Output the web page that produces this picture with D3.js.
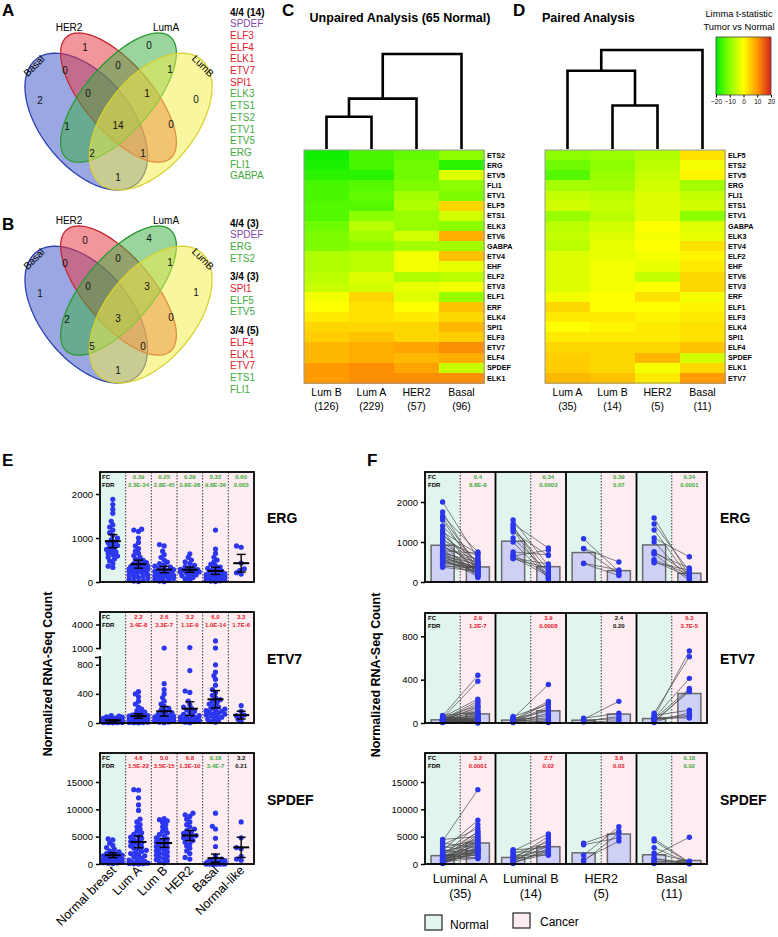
<!DOCTYPE html>
<html>
<head>
<meta charset="utf-8">
<title>ETS factors in breast cancer subtypes</title>
<script src="https://cdn.jsdelivr.net/npm/d3@7/dist/d3.min.js"></script>
<style>
  body { margin: 0; background: #fff; }
  svg { font-family: "Liberation Sans", Arial, Helvetica, sans-serif; }
</style>
</head>
<body>
<div id="chart"></div>
<script>
// ---------- A / B : Venn counts ----------
var vennRegions = ["HER2", "LumA", "Basal&HER2", "HER2&LumA", "LumA&LumB", "Basal",
                   "Basal&HER2&LumA", "HER2&LumA&LumB", "LumB", "Basal&LumA", "All",
                   "HER2&LumB", "Basal&LumA&LumB", "Basal&HER2&LumB", "Basal&LumB"];
var vennCountsA = [1, 0, 0, 0, 1, 2, 0, 1, 0, 1, 14, 0, 2, 1, 1];
var vennCountsB = [0, 4, 0, 0, 1, 1, 0, 3, 1, 2, 3, 0, 5, 0, 1];

var listAHead = "4/4 (14)";
var listAGenes = ["SPDEF", "ELF3", "ELF4", "ELK1", "ETV7", "SPI1", "ELK3", "ETS1", "ETS2", "ETV1", "ETV5", "ERG", "FLI1", "GABPA"];
var listAKind  = ["p", "r", "r", "r", "r", "r", "g", "g", "g", "g", "g", "g", "g", "g"];
var listBHeads = ["4/4 (3)", "3/4 (3)", "3/4 (5)"];
var listBGenes = [["SPDEF", "ERG", "ETS2"], ["SPI1", "ELF5", "ETV5"], ["ELF4", "ELK1", "ETV7", "ETS1", "FLI1"]];
var listBKind  = [["p", "g", "g"], ["r", "g", "g"], ["r", "r", "r", "g", "g"]];

// ---------- C / D : heatmaps (limma t-statistic) ----------
var heatCGenes = ["ETS2", "ERG", "ETV5", "FLI1", "ETV1", "ELF5", "ETS1", "ELK3", "ETV6", "GABPA", "ETV4", "EHF",
                  "ELF2", "ETV3", "ELF1", "ERF", "ELK4", "SPI1", "ELF3", "ETV7", "ELF4", "SPDEF", "ELK1"];
var heatCCols = ["Lum B", "Lum A", "HER2", "Basal"];
var heatCN = ["(126)", "(229)", "(57)", "(96)"];
var heatCVals = [
  [-19, -15, -13, -10], [-18, -15, -12, -17], [-17, -17, -12, -3], [-15, -14, -11, -10],
  [-15, -13, -8, -11], [-14, -14, -7, 4], [-14, -10, -9, -4], [-12, -6, -9, -10],
  [-11, -8, -4, 8], [-11, -10, -8, -8], [-7, -6, -1, 6], [-7, -6, -1, -2],
  [-6, -3, -7, -6], [-5, -4, -2, -1], [-1, 4, -3, -9], [0, 3, 0, 6],
  [2, 3, 2, 4], [4, 4, 4, 7], [5, 6, 4, 5], [7, 8, 9, 11],
  [7, 8, 7, 8], [10, 11, 9, -5], [10, 11, 11, 11]
];
var dendroC = [[0, 1, 0.34], [4, 2, 0.53], [5, 3, 1.0]];

var heatDGenes = ["ELF5", "ETS2", "ETV5", "ERG", "FLI1", "ETS1", "ETV1", "GABPA", "ELK3", "ETV4", "ELF2", "EHF",
                  "ETV6", "ETV3", "ERF", "ELF1", "ELF3", "ELK4", "SPI1", "ELF4", "SPDEF", "ELK1", "ETV7"];
var heatDCols = ["Lum A", "Lum B", "HER2", "Basal"];
var heatDN = ["(35)", "(14)", "(5)", "(11)"];
var heatDVals = [
  [-10, -9, -7, 3], [-12, -10, -6, -1], [-14, -9, -5, 1], [-8, -8, -4, -8],
  [-5, -6, -3, -5], [-4, -5, -3, -4], [-9, -6, -3, -10], [-6, -4, 0, -3],
  [-5, -3, -1, -2], [-6, -2, 0, 3], [-3, -2, -1, 1], [-3, -1, -2, 2],
  [-3, -1, -5, 4], [-3, -1, 0, 4], [-1, 0, 3, -1], [4, 0, 0, 1],
  [2, 2, 1, 2], [0, 1, 2, 3], [2, 2, 2, 3], [4, 4, 4, 6],
  [5, 4, 7, -4], [5, 4, -1, 4], [7, 6, 2, 10]
];
var dendroD = [[1, 2, 0.44], [0, 4, 0.79], [5, 3, 1.0]];
var legendTicks = [-20, -10, 0, 10, 20];

// ---------- E : unpaired counts ----------
var eGroups = ["Normal breast", "Lum A", "Lum B", "HER2", "Basal", "Normal-like"];
var ergE = [
  [1880, 1760, 1650, 1560, 1380, 1300, 1250, 1180, 1120, 1060, 1000, 960, 920, 890, 860, 830, 800, 770, 740, 710, 680, 650, 620, 590, 560, 520, 480, 420, 360, 330],
  [1200, 1180, 1150, 1000, 900, 820, 760, 700, 650, 600, 560, 520, 490, 460, 440, 420, 400, 380, 360, 350, 340, 330, 320, 310, 300, 290, 280, 270, 260, 250, 240, 230, 220, 200, 180, 160, 150, 140, 120, 100, 80, 60, 40, 20, 10],
  [850, 820, 700, 620, 560, 500, 450, 420, 390, 360, 340, 320, 300, 280, 260, 240, 230, 220, 210, 200, 190, 180, 170, 160, 150, 140, 130, 120, 100, 90, 80, 60, 40, 20, 10],
  [640, 560, 500, 460, 420, 380, 350, 320, 300, 290, 280, 270, 260, 250, 240, 230, 220, 200, 180, 160, 140, 120, 100, 70, 40],
  [1180, 750, 650, 560, 500, 450, 400, 370, 340, 310, 290, 270, 250, 230, 210, 200, 190, 180, 170, 160, 150, 140, 130, 120, 110, 100, 90, 80, 70, 60, 50, 40, 30, 20, 10],
  [820, 790, 430, 300, 260, 210, 180]
];
var etv7E = [
  [100, 95, 85, 80, 70, 65, 60, 55, 50, 45, 40, 38, 35, 32, 30, 28, 26, 24, 22, 20, 18, 16, 14, 12, 10, 8, 6, 5, 4, 2],
  [430, 400, 360, 300, 260, 220, 190, 170, 150, 135, 120, 110, 100, 95, 90, 85, 80, 75, 70, 65, 60, 58, 55, 52, 50, 48, 45, 42, 40, 38, 35, 32, 30, 28, 25, 22, 20, 18, 15, 12, 10, 8, 6, 4, 2],
  [1000, 540, 460, 400, 350, 300, 260, 230, 200, 180, 160, 140, 125, 115, 105, 100, 95, 90, 85, 80, 75, 70, 65, 60, 55, 50, 45, 40, 35, 30, 25, 20, 15, 10, 5],
  [1050, 720, 440, 420, 300, 250, 220, 200, 180, 160, 140, 120, 110, 100, 90, 80, 70, 60, 50, 40, 35, 30, 20, 10, 5],
  [1900, 1000, 800, 700, 650, 600, 520, 460, 420, 380, 350, 320, 300, 280, 260, 240, 220, 200, 190, 180, 170, 160, 150, 140, 130, 120, 110, 100, 90, 80, 60, 50, 40, 20, 10],
  [240, 160, 110, 100, 80, 50, 20]
];
var spdefE = [
  [4600, 4400, 3800, 3400, 3000, 2700, 2400, 2200, 2000, 1900, 1800, 1700, 1600, 1500, 1400, 1300, 1200, 1100, 1000, 900, 800, 700, 600, 500, 400, 300, 250, 200, 150, 100],
  [13600, 13500, 12100, 10800, 9800, 8200, 7700, 7200, 6800, 6400, 6000, 5700, 5400, 5100, 4900, 4700, 4500, 4300, 4100, 3900, 3700, 3500, 3300, 3100, 2900, 2700, 2500, 2300, 2100, 1900, 1700, 1500, 1300, 1100, 900, 700, 500, 400, 300, 200, 150, 100, 60, 30, 10],
  [8300, 8100, 7900, 7600, 7200, 6800, 6400, 6000, 5700, 5400, 5100, 4800, 4600, 4400, 4200, 4000, 3800, 3600, 3400, 3200, 3000, 2800, 2600, 2400, 2200, 2000, 1800, 1600, 1400, 1200, 1000, 800, 600, 400, 200],
  [9300, 9000, 8700, 8200, 7700, 7200, 6800, 6400, 6100, 5800, 5600, 5400, 5200, 5000, 4800, 4600, 4300, 4000, 3700, 3300, 2900, 2400, 1900, 1200, 900],
  [9300, 6900, 6400, 4700, 3200, 1500, 900, 700, 600, 500, 400, 350, 300, 250, 200, 180, 160, 140, 120, 100, 90, 80, 70, 60, 50, 40, 30, 25, 20, 15, 10, 8, 5, 3, 1],
  [7700, 4800, 3000, 2800, 1400, 900, 700]
];
var ergEFc = ["0.39", "0.25", "0.29", "0.22", "0.60"];
var ergEFdr = ["2.3E-34", "2.8E-45", "3.8E-28", "9.8E-36", "0.003"];
var ergECol = ["g", "g", "g", "g", "g"];
var etv7EFc = ["2.2", "2.6", "3.2", "6.0", "3.3"];
var etv7EFdr = ["3.4E-8", "3.3E-7", "1.1E-9", "1.0E-14", "1.7E-6"];
var etv7ECol = ["r", "r", "r", "r", "r"];
var spdefEFc = ["4.6", "5.0", "6.8", "0.18", "3.2"];
var spdefEFdr = ["1.5E-22", "3.5E-15", "1.3E-10", "3.4E-7", "0.21"];
var spdefECol = ["r", "r", "r", "g", "k"];

// ---------- F : paired counts (normal, cancer) ----------
var fGroups = ["Luminal A", "Luminal B", "HER2", "Basal"];
var fN = ["(35)", "(14)", "(5)", "(11)"];
var ergFNormal = [
  [2000, 1750, 1650, 1600, 1550, 1400, 1300, 1250, 1200, 1150, 1100, 1050, 1000, 950, 900, 850, 800, 780, 760, 740, 720, 700, 680, 650, 630, 600, 580, 560, 540, 520, 500, 470, 440, 400, 370],
  [1550, 1450, 1400, 1350, 1300, 1250, 1100, 1000, 750, 680, 650, 620, 600, 580],
  [1080, 840, 830, 470, 460],
  [1600, 1450, 1300, 1100, 1000, 760, 720, 700, 560, 520, 480]
];
var ergFCancer = [
  [600, 300, 750, 420, 250, 480, 160, 700, 380, 520, 220, 650, 340, 110, 460, 560, 270, 720, 400, 200, 500, 320, 180, 440, 290, 360, 140, 390, 240, 330, 280, 370, 230, 350, 260],
  [400, 850, 120, 300, 60, 660, 250, 100, 680, 200, 800, 150, 450, 350],
  [260, 500, 200, 300, 160],
  [150, 270, 100, 630, 60, 200, 350, 40, 180, 120, 300]
];
var etv7FNormal = [
  [70, 65, 60, 55, 50, 48, 45, 42, 40, 38, 36, 34, 32, 30, 29, 28, 27, 26, 25, 24, 23, 22, 21, 20, 19, 18, 17, 16, 15, 13, 12, 10, 8, 6, 4],
  [60, 50, 45, 40, 35, 30, 25, 20, 18, 15, 12, 10, 8, 5],
  [45, 35, 25, 15, 10],
  [90, 70, 55, 50, 45, 40, 35, 30, 20, 10, 5]
];
var etv7FCancer = [
  [100, 440, 30, 220, 15, 160, 385, 60, 8, 120, 45, 200, 22, 90, 5, 140, 35, 180, 12, 70, 3, 110, 50, 150, 25, 6, 80, 40, 2, 55, 18, 28, 10, 20, 4],
  [170, 30, 355, 110, 5, 200, 70, 185, 20, 150, 50, 130, 10, 90],
  [90, 200, 40, 60, 20],
  [612, 118, 665, 45, 412, 72, 318, 60, 290, 95, 305]
];
var spdefFNormal = [
  [4500, 4200, 3800, 3500, 3200, 3000, 2700, 2500, 2300, 2100, 1900, 1800, 1700, 1600, 1500, 1400, 1300, 1200, 1100, 1000, 900, 850, 800, 700, 650, 600, 500, 450, 400, 350, 300, 250, 200, 150, 100],
  [2600, 2400, 2200, 1900, 1600, 1400, 1200, 1000, 800, 600, 400, 300, 200, 100],
  [3800, 3500, 1600, 800, 500],
  [4600, 4200, 3000, 2000, 1600, 1000, 900, 600, 400, 200, 100]
];
var spdefFCancer = [
  [5000, 13600, 3000, 6500, 2200, 4400, 1400, 8000, 3800, 2600, 5800, 1000, 4800, 2000, 7200, 3400, 2800, 1600, 6000, 4200, 2400, 5500, 1200, 3600, 2900, 4600, 1800, 5200, 2700, 1100, 4000, 2300, 3200, 2100, 2500],
  [3000, 5500, 2200, 4000, 1600, 3600, 2600, 5000, 2000, 3300, 1800, 4500, 2400, 2800],
  [6000, 4800, 6800, 4200, 5600],
  [300, 200, 150, 500, 4900, 100, 250, 80, 400, 50, 120]
];
var ergFFc = ["0.4", "0.34", "0.39", "0.24"];
var ergFFdr = ["8.8E-8", "0.0003", "0.07", "0.0001"];
var ergFCol = ["g", "g", "g", "g"];
var etv7FFc = ["2.9", "3.9", "2.4", "6.3"];
var etv7FFdr = ["1.2E-7", "0.0008", "0.20", "3.7E-5"];
var etv7FCol = ["r", "r", "k", "r"];
var spdefFFc = ["3.2", "2.7", "3.8", "0.18"];
var spdefFFdr = ["0.0001", "0.02", "0.03", "0.02"];
var spdefFCol = ["r", "r", "r", "g"];

function init(){
    var svg = d3.select("#chart").append("svg").attr("width", 778).attr("height", 937);
    var textColor = {p: "#8446a8", r: "#e3202b", g: "#45aa3c", k: "#111"};
    var blue = "#2b36ee";
    var normalBg = "#e2f4ee", cancerBg = "#fdedf1";

    // panel letters
    [["A", 2, 16], ["B", 2, 230], ["C", 282, 16], ["D", 513, 16], ["E", 2, 466], ["F", 367, 466]]
        .forEach(function(l){
            svg.append("text").attr("x", l[1]).attr("y", l[2]).text(l[0])
                .attr("font-size", 17).attr("font-weight", "bold");
        });

    // ---------------- Venn diagrams ----------------
    // ellipse layout in unit coords (same as the classic 4-set layout)
    var vennSets = [
        {name: "Basal", x: 0.35, y: 0.47, a: 0.35, b: 0.20, rot: 135, fill: "#3d57c9", stroke: "#2a3fb0"},
        {name: "HER2",  x: 0.50, y: 0.57, a: 0.35, b: 0.15, rot: 135, fill: "#e8353f", stroke: "#c42a33"},
        {name: "LumA",  x: 0.50, y: 0.57, a: 0.35, b: 0.15, rot: 45,  fill: "#3eae44", stroke: "#2b9a33"},
        {name: "LumB",  x: 0.65, y: 0.47, a: 0.35, b: 0.20, rot: 45,  fill: "#f4ee48", stroke: "#d8d230"}
    ];
    var vennLabelPos = [[85, 47], [149, 45], [65, 70], [118, 65], [170, 69], [40, 100], [88, 93], [147, 93],
                        [196, 99], [67, 126], [118, 125], [171, 124], [92, 153], [143, 153], [118, 177]];

    function drawVenn(dy, counts){
        var g = svg.append("g").attr("transform", "translate(0," + dy + ")");
        var vx = d3.scaleLinear().domain([0, 1]).range([11, 226]);
        var vy = d3.scaleLinear().domain([1, 0]).range([-5.6, 234.4]);
        vennSets.forEach(function(s){
            var r = s.rot * Math.PI / 180;
            var pts = d3.range(0, 360, 3).map(function(t){
                var a = t * Math.PI / 180;
                var x = s.x + s.a * Math.cos(a) * Math.cos(r) - s.b * Math.sin(a) * Math.sin(r);
                var y = s.y + s.a * Math.cos(a) * Math.sin(r) + s.b * Math.sin(a) * Math.cos(r);
                return [vx(x), vy(y)];
            });
            g.append("path").attr("d", d3.line()(pts) + "Z")
                .attr("fill", s.fill).attr("fill-opacity", 0.52)
                .attr("stroke", s.stroke).attr("stroke-width", 1.3);
        });
        g.selectAll("text.cnt").data(counts).enter().append("text")
            .attr("class", "cnt")
            .attr("x", function(d, i){ return vennLabelPos[i][0]; })
            .attr("y", function(d, i){ return vennLabelPos[i][1] + 3.6; })
            .attr("text-anchor", "middle").attr("font-size", 10).attr("fill", "#111")
            .text(function(d){ return d; });
        g.append("text").attr("x", 69).attr("y", 30.5).attr("text-anchor", "middle").attr("font-size", 10).text("HER2");
        g.append("text").attr("x", 166).attr("y", 30.5).attr("text-anchor", "middle").attr("font-size", 10).text("LumA");
        g.append("text").attr("transform", "translate(34,66) rotate(-45)").attr("dy", 3.5)
            .attr("text-anchor", "middle").attr("font-size", 10).text("Basal");
        g.append("text").attr("transform", "translate(203,66) rotate(45)").attr("dy", 3.5)
            .attr("text-anchor", "middle").attr("font-size", 10).text("LumB");
    }
    drawVenn(0, vennCountsA);
    drawVenn(193, vennCountsB);

    // gene lists
    svg.append("text").attr("x", 230).attr("y", 15.5).attr("font-size", 10).attr("font-weight", "bold").text(listAHead);
    listAGenes.forEach(function(gn, i){
        svg.append("text").attr("x", 230).attr("y", 12 + (i + 1) * 11.7 + 3.5)
            .attr("font-size", 10).attr("fill", textColor[listAKind[i]]).text(gn);
    });
    var row = 0;
    listBHeads.forEach(function(h, gi){
        svg.append("text").attr("x", 230).attr("y", 223 + row * 11.7 + gi * 7 + 3.5)
            .attr("font-size", 10).attr("font-weight", "bold").text(h);
        row++;
        listBGenes[gi].forEach(function(gn, i){
            svg.append("text").attr("x", 230).attr("y", 223 + row * 11.7 + gi * 7 + 3.5)
                .attr("font-size", 10).attr("fill", textColor[listBKind[gi][i]]).text(gn);
            row++;
        });
    });

    // ---------------- Heatmaps ----------------
    var heatColor = d3.scaleLinear().domain([-20, -10, 0, 10, 20])
        .range(["#00ee00", "#8cff00", "#ffff00", "#ff9a00", "#d82020"]);

    function drawHeat(x0, title, titleX, titleAnchor, genes, cols, ns, vals, dendro, topY){
        var g = svg.append("g");
        var x = d3.scaleBand().domain(cols).range([x0, x0 + 180]);
        var y = d3.scaleBand().domain(genes).range([150, 383]);
        g.append("text").attr("x", titleX).attr("y", 22).attr("text-anchor", titleAnchor)
            .attr("font-size", 12.5).attr("font-weight", "bold").text(title);
        genes.forEach(function(gn, i){
            g.selectAll(null).data(vals[i]).enter().append("rect")
                .attr("x", function(d, j){ return x(cols[j]); })
                .attr("y", y(gn))
                .attr("width", x.bandwidth() + 0.5)
                .attr("height", y.bandwidth() + 0.5)
                .attr("fill", function(d){ return heatColor(d); })
                .attr("shape-rendering", "crispEdges");
        });
        g.append("rect").attr("x", x0).attr("y", 150).attr("width", 180).attr("height", 233)
            .attr("fill", "none").attr("stroke", "#9a9a9a").attr("stroke-width", 1);
        g.selectAll("text.row").data(genes).enter().append("text").attr("class", "row")
            .attr("x", x0 + 183).attr("y", function(d){ return y(d) + y.bandwidth() / 2 + 2.6; })
            .attr("font-size", 7.2).attr("font-weight", "bold").text(function(d){ return d; });
        cols.forEach(function(c, j){
            var cx = x(c) + x.bandwidth() / 2;
            g.append("text").attr("x", cx).attr("y", 396).attr("text-anchor", "middle").attr("font-size", 10.5).text(c);
            g.append("text").attr("x", cx).attr("y", 409.5).attr("text-anchor", "middle").attr("font-size", 10.5).text(ns[j]);
        });
        // dendrogram
        var hs = d3.scaleLinear().domain([0, 1]).range([149, topY]);
        var nodes = cols.map(function(c){ return {x: x(c) + x.bandwidth() / 2, y: 149}; });
        dendro.forEach(function(m){
            var a = nodes[m[0]], b = nodes[m[1]], yy = hs(m[2]);
            g.append("path").attr("d", "M" + a.x + "," + a.y + "V" + yy + "H" + b.x + "V" + b.y)
                .attr("fill", "none").attr("stroke", "#000").attr("stroke-width", 2.6);
            nodes.push({x: (a.x + b.x) / 2, y: yy});
        });
    }
    drawHeat(304, "Unpaired Analysis (65 Normal)", 400, "middle", heatCGenes, heatCCols, heatCN, heatCVals, dendroC, 54);
    drawHeat(545, "Paired Analysis", 542, "start", heatDGenes, heatDCols, heatDN, heatDVals, dendroD, 50);

    // colour legend
    var defs = svg.append("defs");
    var grad = defs.append("linearGradient").attr("id", "tgrad");
    legendTicks.forEach(function(t, i){
        grad.append("stop").attr("offset", (i / (legendTicks.length - 1) * 100) + "%").attr("stop-color", heatColor(t));
    });
    var lx = d3.scaleLinear().domain([-20, 20]).range([716, 771]);
    svg.append("text").attr("x", 739).attr("y", 17).attr("text-anchor", "middle").attr("font-size", 9.3).text("Limma t-statistic");
    svg.append("text").attr("x", 739).attr("y", 29.5).attr("text-anchor", "middle").attr("font-size", 9.3).text("Tumor vs Normal");
    svg.append("rect").attr("x", 716).attr("y", 37).attr("width", 55).attr("height", 58)
        .attr("fill", "url(#tgrad)").attr("stroke", "#444").attr("stroke-width", 0.8);
    var lAxis = svg.append("g").attr("transform", "translate(0,95)")
        .call(d3.axisBottom(lx).tickValues(legendTicks).tickSize(2.5));
    lAxis.select(".domain").remove();
    lAxis.selectAll("text").attr("font-size", 6.5).attr("font-family", null).attr("dy", "0.6em");

    // ---------------- helpers for dot plots ----------------
    function swarm(values, y, cx, r, maxOff){
        var pts = values.map(function(v){ return {v: v, y: y(v)}; })
                        .sort(function(a, b){ return b.y - a.y; });
        var placed = [];
        var minD = r * 1.45, step = r * 0.6;
        var nSteps = Math.floor(maxOff / step);
        pts.forEach(function(p){
            var bestX = cx, bestD = -1;
            for (var k = 0; k <= nSteps * 2; k++){
                var x = cx + (k % 2 ? -1 : 1) * Math.ceil(k / 2) * step;
                var d = Infinity;
                placed.forEach(function(q){
                    var dd = Math.hypot(q.x - x, q.y - p.y);
                    if (dd < d) d = dd;
                });
                if (d >= minD){ bestX = x; bestD = d; break; }
                if (d > bestD){ bestD = d; bestX = x; }
            }
            p.x = bestX;
            placed.push(p);
        });
        return placed;
    }

    function fcText(g, x, top, fc, fdr, col, anchor){
        g.append("text").attr("x", x).attr("y", top + 7).attr("text-anchor", anchor)
            .attr("font-size", 6).attr("font-weight", "bold").attr("fill", textColor[col]).text(fc);
        g.append("text").attr("x", x).attr("y", top + 14.5).attr("text-anchor", anchor)
            .attr("font-size", 6).attr("font-weight", "bold").attr("fill", textColor[col]).text(fdr);
    }

    function yAxis(g, x0, y, ticks){
        var ax = g.append("g").attr("transform", "translate(" + x0 + ",0)")
            .call(d3.axisLeft(y).tickValues(ticks).tickSize(4).tickFormat(d3.format("d")));
        ax.select(".domain").remove();
        ax.selectAll("line").attr("stroke-width", 1.5);
        ax.selectAll("text").attr("font-size", 9.5).attr("font-family", null).attr("fill", "#000");
        return ax;
    }

    // ---------------- E : unpaired dot plots ----------------
    var xE = d3.scaleBand().domain(eGroups).range([100, 254]);

    function drawE(top, bottom, y, ticks, data, fc, fdr, cols, gene, broken){
        var g = svg.append("g");
        eGroups.forEach(function(gr, i){
            g.append("rect").attr("x", xE(gr)).attr("y", top).attr("width", xE.bandwidth()).attr("height", bottom - top)
                .attr("fill", i === 0 ? normalBg : cancerBg);
            if (i > 0){
                g.append("line").attr("x1", xE(gr)).attr("x2", xE(gr)).attr("y1", top).attr("y2", bottom)
                    .attr("stroke", "#222").attr("stroke-width", 0.9).attr("stroke-dasharray", "1.5,1.5");
            }
        });
        g.append("text").attr("x", 102).attr("y", top + 7).attr("font-size", 6).attr("font-weight", "bold").text("FC");
        g.append("text").attr("x", 102).attr("y", top + 14.5).attr("font-size", 6).attr("font-weight", "bold").text("FDR");
        fc.forEach(function(f, i){
            fcText(g, xE(eGroups[i + 1]) + xE.bandwidth() / 2, top, f, fdr[i], cols[i], "middle");
        });
        data.forEach(function(vals, i){
            var cx = xE(eGroups[i]) + xE.bandwidth() / 2;
            var pts = swarm(vals, y, cx, 2.6, 10);
            g.selectAll(null).data(pts).enter().append("circle")
                .attr("cx", function(d){ return d.x; }).attr("cy", function(d){ return d.y; })
                .attr("r", 2.6).attr("fill", blue);
            var m = d3.mean(vals), se = 1.96 * d3.deviation(vals) / Math.sqrt(vals.length);
            var lo = y(Math.max(0, m - se)), hi = y(m + se);
            g.append("line").attr("x1", cx).attr("x2", cx).attr("y1", lo).attr("y2", hi).attr("stroke", "#000").attr("stroke-width", 1.4);
            g.append("line").attr("x1", cx - 4.5).attr("x2", cx + 4.5).attr("y1", lo).attr("y2", lo).attr("stroke", "#000").attr("stroke-width", 1.4);
            g.append("line").attr("x1", cx - 4.5).attr("x2", cx + 4.5).attr("y1", hi).attr("y2", hi).attr("stroke", "#000").attr("stroke-width", 1.4);
            g.append("line").attr("x1", cx - 8).attr("x2", cx + 8).attr("y1", y(m)).attr("y2", y(m)).attr("stroke", "#000").attr("stroke-width", 2);
        });
        g.append("rect").attr("x", 100).attr("y", top).attr("width", 154).attr("height", bottom - top)
            .attr("fill", "none").attr("stroke", "#000").attr("stroke-width", 1.8);
        yAxis(g, 100, y, ticks);
        if (broken){
            // axis break between the two scale segments
            g.append("rect").attr("x", 98).attr("y", y(broken[0]) + 1.5).attr("width", 4)
                .attr("height", y(broken[1]) - y(broken[0]) - 3)
                .attr("fill", "#fff");
            g.append("line").attr("x1", 95).attr("x2", 101).attr("y1", y(broken[1])).attr("y2", y(broken[1]))
                .attr("stroke", "#000").attr("stroke-width", 1.5);
        }
        g.append("text").attr("x", 267).attr("y", (top + bottom) / 2 - 4).attr("font-size", 14).attr("font-weight", "bold").text(gene);
    }

    var yErgE = d3.scaleLinear().domain([0, 2500]).range([582, 472]);
    var yEtv7E = d3.scaleLinear().domain([0, 900, 1000, 5600]).range([723, 657.5, 648, 612]);
    var ySpdefE = d3.scaleLinear().domain([0, 20300]).range([864, 753]);
    drawE(472, 582, yErgE, [0, 1000, 2000], ergE, ergEFc, ergEFdr, ergECol, "ERG");
    drawE(612, 723, yEtv7E, [0, 400, 800, 1000, 4000], etv7E, etv7EFc, etv7EFdr, etv7ECol, "ETV7", [1000, 900]);
    drawE(753, 864, ySpdefE, [0, 5000, 10000, 15000], spdefE, spdefEFc, spdefEFdr, spdefECol, "SPDEF");

    eGroups.forEach(function(gr){
        var cx = xE(gr) + xE.bandwidth() / 2;
        svg.append("text").attr("transform", "translate(" + (cx + 4) + ",871) rotate(-45)")
            .attr("text-anchor", "end").attr("font-size", 12.5).text(gr);
    });
    svg.append("text").attr("transform", "translate(52,674) rotate(-90)").attr("text-anchor", "middle")
        .attr("font-size", 12.5).attr("font-weight", "bold").text("Normalized RNA-Seq Count");

    // ---------------- F : paired plots ----------------
    var xF = d3.scaleBand().domain(fGroups).range([425, 707]);
    var sub = d3.scaleBand().domain(["Normal", "Cancer"]).range([0, xF.bandwidth()]);

    function drawF(top, bottom, y, ticks, normal, cancer, fc, fdr, cols, gene){
        var g = svg.append("g");
        fGroups.forEach(function(gr, i){
            ["Normal", "Cancer"].forEach(function(k){
                g.append("rect").attr("x", xF(gr) + sub(k)).attr("y", top).attr("width", sub.bandwidth()).attr("height", bottom - top)
                    .attr("fill", k === "Normal" ? normalBg : cancerBg);
            });
            var mx = xF(gr) + sub("Cancer");
            g.append("line").attr("x1", mx).attr("x2", mx).attr("y1", top).attr("y2", bottom)
                .attr("stroke", "#222").attr("stroke-width", 0.9).attr("stroke-dasharray", "1.5,1.5");
            if (i > 0){
                g.append("line").attr("x1", xF(gr)).attr("x2", xF(gr)).attr("y1", top).attr("y2", bottom)
                    .attr("stroke", "#000").attr("stroke-width", 1.8);
            }
            var nx = xF(gr) + sub("Normal") + sub.bandwidth() / 2;
            var cx = xF(gr) + sub("Cancer") + sub.bandwidth() / 2;
            [[nx, d3.mean(normal[i])], [cx, d3.mean(cancer[i])]].forEach(function(b){
                g.append("rect").attr("x", b[0] - 11.5).attr("y", y(b[1])).attr("width", 23).attr("height", bottom - y(b[1]))
                    .attr("fill", "#cfd0f6").attr("stroke", "#6a6a6a").attr("stroke-width", 1.5);
            });
            normal[i].forEach(function(v, j){
                g.append("line").attr("x1", nx).attr("x2", cx).attr("y1", y(v)).attr("y2", y(cancer[i][j]))
                    .attr("stroke", "#4a4a4a").attr("stroke-width", 0.7);
            });
            g.selectAll(null).data(normal[i]).enter().append("circle")
                .attr("cx", nx).attr("cy", function(d){ return y(d); }).attr("r", 2.7).attr("fill", blue);
            g.selectAll(null).data(cancer[i]).enter().append("circle")
                .attr("cx", cx).attr("cy", function(d){ return y(d); }).attr("r", 2.7).attr("fill", blue);
            fcText(g, cx, top, fc[i], fdr[i], cols[i], "middle");
        });
        g.append("text").attr("x", 428).attr("y", top + 7).attr("font-size", 6).attr("font-weight", "bold").text("FC");
        g.append("text").attr("x", 428).attr("y", top + 14.5).attr("font-size", 6).attr("font-weight", "bold").text("FDR");
        g.append("rect").attr("x", 425).attr("y", top).attr("width", 282).attr("height", bottom - top)
            .attr("fill", "none").attr("stroke", "#000").attr("stroke-width", 1.8);
        yAxis(g, 425, y, ticks);
        g.append("text").attr("x", 720).attr("y", (top + bottom) / 2 - 4).attr("font-size", 14).attr("font-weight", "bold").text(gene);
    }

    var yErgF = d3.scaleLinear().domain([0, 2750]).range([582, 472]);
    var yEtv7F = d3.scaleLinear().domain([0, 1015]).range([723, 613]);
    var ySpdefF = d3.scaleLinear().domain([0, 20300]).range([864, 753]);
    drawF(472, 582, yErgF, [0, 1000, 2000], ergFNormal, ergFCancer, ergFFc, ergFFdr, ergFCol, "ERG");
    drawF(613, 723, yEtv7F, [0, 400, 800], etv7FNormal, etv7FCancer, etv7FFc, etv7FFdr, etv7FCol, "ETV7");
    drawF(753, 864, ySpdefF, [0, 5000, 10000, 15000], spdefFNormal, spdefFCancer, spdefFFc, spdefFFdr, spdefFCol, "SPDEF");

    fGroups.forEach(function(gr, i){
        var cx = xF(gr) + xF.bandwidth() / 2;
        svg.append("text").attr("x", cx).attr("y", 882.5).attr("text-anchor", "middle").attr("font-size", 12.5).text(gr);
        svg.append("text").attr("x", cx).attr("y", 897.5).attr("text-anchor", "middle").attr("font-size", 12.5).text(fN[i]);
    });
    svg.append("text").attr("transform", "translate(380,675) rotate(-90)").attr("text-anchor", "middle")
        .attr("font-size", 12.5).attr("font-weight", "bold").text("Normalized RNA-Seq Count");

    // legend
    [["Normal", normalBg, 425, 915, 450, 929], ["Cancer", cancerBg, 513, 913, 540, 926]].forEach(function(l){
        svg.append("rect").attr("x", l[2]).attr("y", l[3]).attr("width", 17).attr("height", 15)
            .attr("fill", l[1]).attr("stroke", "#333").attr("stroke-width", 1.3);
        svg.append("text").attr("x", l[4]).attr("y", l[5]).attr("font-size", 12).text(l[0]);
    });
}
window.onload = init;
</script>
</body>
</html>
